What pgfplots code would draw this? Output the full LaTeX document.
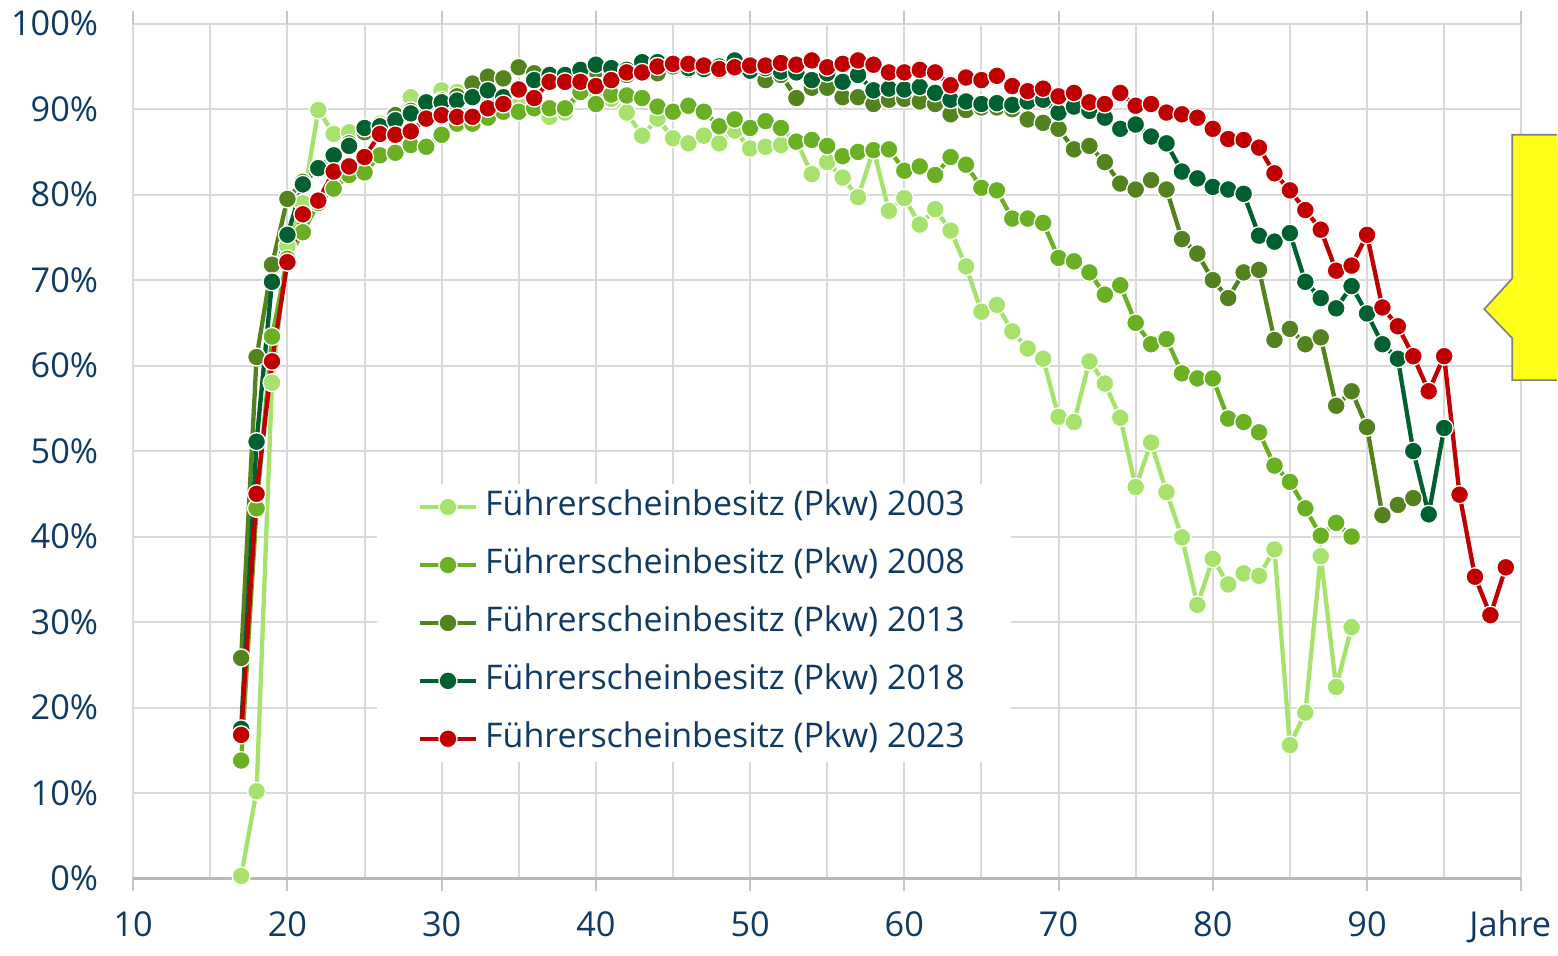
\documentclass[border=0pt]{standalone}
\usepackage{fontspec}
\setmainfont{Open Sans}
\usepackage{pgfplots}
\pgfplotsset{compat=1.18}
\definecolor{c03}{RGB}{166,226,108}
\definecolor{c08}{RGB}{106,176,35}
\definecolor{c13}{RGB}{84,130,30}
\definecolor{c18}{RGB}{0,96,48}
\definecolor{c23}{RGB}{192,0,0}
\definecolor{txt}{RGB}{16,58,100}
\definecolor{gridc}{RGB}{217,217,217}
\definecolor{callout}{RGB}{255,255,26}
\begin{document}
\begin{tikzpicture}
\begin{axis}[
  width=417pt, height=256.8pt, scale only axis,
  xmin=10, xmax=100, ymin=0, ymax=100,
  clip=false,
  axis line style={draw=none},
  xtick={10,20,...,100},
  xticklabels={10,20,30,40,50,60,70,80,90,{\makebox[0pt]{Jahre\hspace*{6.6pt}}}},
  minor xtick={15,25,...,95},
  ytick={0,10,...,100},
  yticklabel={\pgfmathprintnumber{\tick}\%},
  /pgf/number format/assume math mode=true,
  grid=both,
  major grid style={draw=gridc, line width=0.6pt},
  minor grid style={draw=gridc, line width=0.6pt},
  tick align=outside,
  major tick length=3.8pt,
  minor tick length=0pt,
  xtick style={draw=gray!45, line width=0.6pt},
  ytick style={draw=none},
  extra y ticks={0},
  extra y tick labels={},
  extra y tick style={grid=major, major grid style={draw=gray!55, line width=0.8pt}},
  ticklabel style={font=\fontsize{10.3}{12}\selectfont, text=txt},
  yticklabel style={xshift=-3.2pt},
  xticklabel style={inner xsep=0pt, text height=0.75em, text depth=0.25em, yshift=-2.5pt},
  legend cell align=left,
  legend style={at={(0.1755,0.4625)}, anchor=north west, fill=white, draw=none,
    font=\fontsize{10.2}{12}\selectfont, text=txt, inner xsep=12pt, inner ysep=0pt,
    row sep=3.4pt, nodes={text height=0.75em, text depth=0.25em}},
  every axis plot/.append style={line width=1.3pt, mark=*, mark size=2.7pt},
]
\addplot[color=c03, mark options={draw=white, line width=0.4pt, fill=c03}] coordinates {
(17,0.3)(18,10.2)(19,58)(20,74)(21,79)(22,89.9)(23,87.1)(24,87.3)(25,87.5)(26,88.3)(27,89.0)(28,91.4)(29,90.5)(30,92.2)(31,92.0)(32,91.5)(33,91.0)(34,90.3)(35,90.5)(36,89.9)(37,89.1)(38,89.6)(39,92.0)(40,91.8)(41,91.2)(42,89.6)(43,86.9)(44,88.9)(45,86.6)(46,86.0)(47,86.9)(48,86.0)(49,87.5)(50,85.4)(51,85.6)(52,85.8)(53,86.3)(54,82.4)(55,83.8)(56,82.0)(57,79.7)(58,85.3)(59,78.1)(60,79.6)(61,76.5)(62,78.3)(63,75.8)(64,71.6)(65,66.3)(66,67.1)(67,64.0)(68,62.0)(69,60.8)(70,54.0)(71,53.4)(72,60.5)(73,57.9)(74,53.9)(75,45.8)(76,51.0)(77,45.2)(78,39.9)(79,32.0)(80,37.4)(81,34.4)(82,35.7)(83,35.4)(84,38.5)(85,15.6)(86,19.4)(87,37.7)(88,22.4)(89,29.4)
};
\addlegendentry{Führerscheinbesitz (Pkw) 2003}
\addplot[color=c08, mark options={draw=white, line width=0.4pt, fill=c08}] coordinates {
(17,13.8)(18,43.3)(19,63.4)(20,72.5)(21,75.6)(22,79.0)(23,80.7)(24,82.3)(25,82.6)(26,84.6)(27,84.9)(28,85.8)(29,85.6)(30,87.0)(31,88.3)(32,88.3)(33,89.0)(34,89.7)(35,89.7)(36,90.1)(37,90.1)(38,90.1)(39,92.0)(40,90.6)(41,91.7)(42,91.6)(43,91.3)(44,90.3)(45,89.7)(46,90.4)(47,89.7)(48,88.0)(49,88.8)(50,87.8)(51,88.6)(52,87.8)(53,86.2)(54,86.4)(55,85.7)(56,84.5)(57,85.0)(58,85.2)(59,85.3)(60,82.8)(61,83.3)(62,82.3)(63,84.4)(64,83.5)(65,80.8)(66,80.5)(67,77.2)(68,77.2)(69,76.7)(70,72.6)(71,72.2)(72,70.9)(73,68.3)(74,69.4)(75,65.0)(76,62.5)(77,63.1)(78,59.1)(79,58.5)(80,58.5)(81,53.8)(82,53.4)(83,52.2)(84,48.3)(85,46.4)(86,43.3)(87,40.1)(88,41.6)(89,40.0)
};
\addlegendentry{Führerscheinbesitz (Pkw) 2008}
\addplot[color=c13, mark options={draw=white, line width=0.4pt, fill=c13}] coordinates {
(17,25.8)(18,61.0)(19,71.8)(20,79.5)(21,81.5)(22,83.0)(23,84.5)(24,86.0)(25,87.3)(26,88.0)(27,89.3)(28,89.8)(29,90.5)(30,91.0)(31,91.5)(32,93.0)(33,93.8)(34,93.6)(35,94.9)(36,94.2)(37,93.8)(38,93.5)(39,94.5)(40,94.5)(41,94.3)(42,94.0)(43,94.8)(44,94.2)(45,95.0)(46,94.6)(47,94.7)(48,94.5)(49,95.0)(50,94.4)(51,93.4)(52,94.0)(53,91.3)(54,92.5)(55,92.5)(56,91.4)(57,91.4)(58,90.6)(59,91.1)(60,91.2)(61,90.9)(62,90.6)(63,89.4)(64,89.9)(65,90.2)(66,90.2)(67,90.0)(68,88.8)(69,88.4)(70,87.7)(71,85.3)(72,85.7)(73,83.8)(74,81.3)(75,80.6)(76,81.7)(77,80.6)(78,74.8)(79,73.1)(80,70.0)(81,67.9)(82,70.9)(83,71.2)(84,63.0)(85,64.3)(86,62.5)(87,63.3)(88,55.3)(89,57.0)(90,52.8)(91,42.5)(92,43.7)(93,44.5)
};
\addlegendentry{Führerscheinbesitz (Pkw) 2013}
\addplot[color=c18, mark options={draw=white, line width=0.4pt, fill=c18}] coordinates {
(17,17.5)(18,51.1)(19,69.8)(20,75.3)(21,81.2)(22,83.1)(23,84.6)(24,85.7)(25,87.8)(26,88.0)(27,88.7)(28,89.5)(29,90.8)(30,90.8)(31,91.0)(32,91.4)(33,92.2)(34,91.4)(35,92.2)(36,93.4)(37,94.0)(38,94.0)(39,94.6)(40,95.2)(41,94.8)(42,94.6)(43,95.5)(44,95.5)(45,95.4)(46,94.8)(47,94.7)(48,95.0)(49,95.7)(50,94.5)(51,94.8)(52,94.4)(53,94.3)(54,93.4)(55,94.2)(56,93.2)(57,94.0)(58,92.2)(59,92.4)(60,92.3)(61,92.6)(62,91.9)(63,91.1)(64,90.9)(65,90.6)(66,90.7)(67,90.5)(68,90.9)(69,91.1)(70,89.6)(71,90.3)(72,89.8)(73,89.0)(74,87.7)(75,88.2)(76,86.8)(77,86.0)(78,82.7)(79,81.9)(80,80.9)(81,80.6)(82,80.1)(83,75.2)(84,74.5)(85,75.5)(86,69.8)(87,67.9)(88,66.7)(89,69.3)(90,66.1)(91,62.5)(92,60.8)(93,50.0)(94,42.6)(95,52.7)
};
\addlegendentry{Führerscheinbesitz (Pkw) 2018}
\addplot[color=c23, mark options={draw=white, line width=0.4pt, fill=c23}] coordinates {
(17,16.8)(18,45.0)(19,60.5)(20,72.1)(21,77.7)(22,79.3)(23,82.7)(24,83.3)(25,84.4)(26,87.1)(27,87.0)(28,87.4)(29,88.9)(30,89.3)(31,89.1)(32,89.1)(33,90.1)(34,90.6)(35,92.3)(36,91.3)(37,93.2)(38,93.2)(39,93.2)(40,92.7)(41,93.4)(42,94.3)(43,94.3)(44,95.0)(45,95.3)(46,95.3)(47,95.1)(48,94.7)(49,94.9)(50,95.1)(51,95.1)(52,95.4)(53,95.2)(54,95.7)(55,94.9)(56,95.3)(57,95.7)(58,95.2)(59,94.3)(60,94.3)(61,94.6)(62,94.3)(63,92.8)(64,93.7)(65,93.4)(66,93.9)(67,92.7)(68,92.1)(69,92.4)(70,91.5)(71,91.9)(72,90.8)(73,90.6)(74,91.9)(75,90.4)(76,90.6)(77,89.6)(78,89.4)(79,89.0)(80,87.7)(81,86.5)(82,86.4)(83,85.5)(84,82.5)(85,80.5)(86,78.2)(87,75.9)(88,71.1)(89,71.7)(90,75.3)(91,66.8)(92,64.6)(93,61.1)(94,57.0)(95,61.1)(96,44.9)(97,35.3)(98,30.8)(99,36.4)
};
\addlegendentry{Führerscheinbesitz (Pkw) 2023}
\fill[callout] (axis cs:102.33,87.0) -- (axis cs:99.42,87.0) -- (axis cs:99.42,70.2) -- (axis cs:97.6,66.6) -- (axis cs:99.42,63.2) -- (axis cs:99.42,58.3) -- (axis cs:102.33,58.3) -- cycle;
\draw[gray, line width=0.5pt] (axis cs:102.33,87.0) -- (axis cs:99.42,87.0) -- (axis cs:99.42,70.2) -- (axis cs:97.6,66.6) -- (axis cs:99.42,63.2) -- (axis cs:99.42,58.3) -- (axis cs:102.33,58.3);
\path (rel axis cs:-0.095,1.0234) (rel axis cs:1.0259,-0.0806);
\end{axis}
\end{tikzpicture}
\end{document}
